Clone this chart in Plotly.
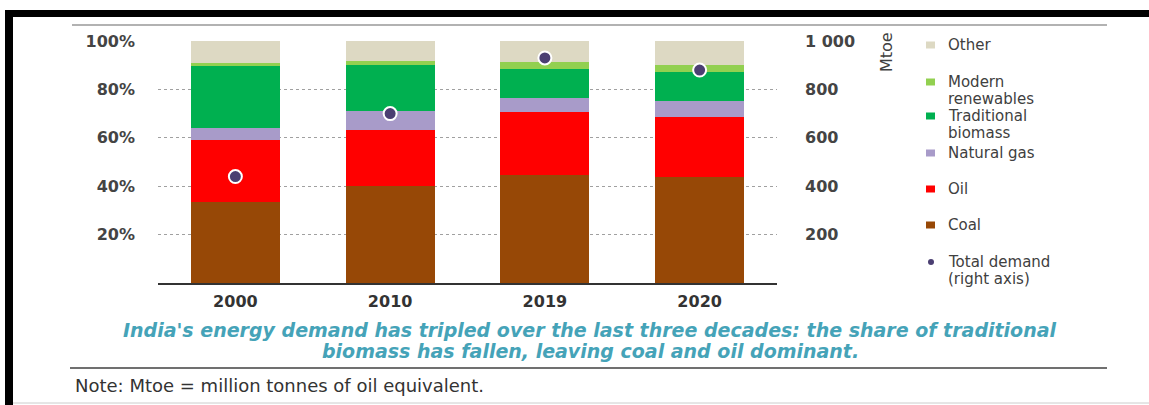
import plotly.graph_objects as go

# ---- data ----
years = ["2000", "2010", "2019", "2020"]
coal = [33.4, 39.9, 44.6, 43.8]
oil = [25.8, 23.2, 26.1, 24.8]
natural_gas = [4.9, 7.8, 5.8, 6.5]
traditional_biomass = [25.5, 19.1, 12.0, 11.9]
modern_renewables = [1.4, 1.9, 2.9, 3.2]
other = [9.0, 8.1, 8.6, 9.8]
total_demand = [440, 700, 930, 880]

left_ticks = [20, 40, 60, 80, 100]
left_labels = ["20%", "40%", "60%", "80%", "100%"]
right_ticks = [200, 400, 600, 800, 1000]
right_labels = ["200", "400", "600", "800", "1 000"]

series = [
    ("Coal", coal, "#974806"),
    ("Oil", oil, "#ff0000"),
    ("Natural gas", natural_gas, "#a89bc9"),
    ("Traditional biomass", traditional_biomass, "#00b050"),
    ("Modern renewables", modern_renewables, "#92d050"),
    ("Other", other, "#ddd9c3"),
]
DOT = "#4b3f72"

W, H = 1149, 405
L, R, T, B = 158, 777, 41, 283


def px(x):
    return (x - L) / (R - L)


def py(y):
    return (B - y) / (B - T)


FONT = "DejaVu Sans"
fig = go.Figure()
for name, vals, col in series:
    fig.add_trace(go.Bar(x=years, y=vals, name=name, marker=dict(color=col, line=dict(width=0)),
                         yaxis="y"))
fig.add_trace(go.Scatter(x=years, y=total_demand, mode="markers", yaxis="y2",
                         marker=dict(size=13, color=DOT, line=dict(color="white", width=2)),
                         name="Total demand"))

fig.update_layout(
    width=W, height=H,
    margin=dict(l=L, r=W - R, t=T, b=H - B, pad=0),
    paper_bgcolor="white", plot_bgcolor="white",
    barmode="stack", bargap=0.425, showlegend=False,
    font=dict(family=FONT, color="#404040"),
    xaxis=dict(type="category", showline=True, linecolor="#333333", linewidth=1.5,
               ticks="", showgrid=False, ticklabelstandoff=3,
               tickfont=dict(family=FONT, size=16, color="#333333", weight="bold")),
    yaxis=dict(range=[0, 100], tickvals=left_ticks, ticktext=left_labels,
               showgrid=True, gridcolor="#a0a0a0", griddash="dot", gridwidth=1,
               zeroline=False, showline=False, ticks="", ticklabelstandoff=22,
               tickfont=dict(family=FONT, size=16, color="#444444", weight="bold")),
    yaxis2=dict(range=[0, 1000], tickvals=right_ticks, ticktext=right_labels,
                overlaying="y", side="right", showgrid=False, zeroline=False,
                showline=False, ticks="", ticklabelstandoff=27,
                tickfont=dict(family=FONT, size=16, color="#444444", weight="bold")),
)

shapes = []
ann = []
# decorative frame
shapes.append(dict(type="rect", xref="paper", yref="paper", x0=px(5), x1=px(1149), y0=py(17), y1=py(10),
                   fillcolor="black", line=dict(width=0), layer="above"))
shapes.append(dict(type="rect", xref="paper", yref="paper", x0=px(5), x1=px(13), y0=py(405), y1=py(10),
                   fillcolor="black", line=dict(width=0), layer="above"))
shapes.append(dict(type="line", xref="paper", yref="paper", x0=px(72), x1=px(1107), y0=py(25), y1=py(25),
                   line=dict(color="#666666", width=1.2)))
shapes.append(dict(type="line", xref="paper", yref="paper", x0=px(70), x1=px(1107), y0=py(368), y1=py(368),
                   line=dict(color="#707070", width=2)))
shapes.append(dict(type="line", xref="paper", yref="paper", x0=px(13), x1=px(1149), y0=py(403), y1=py(403),
                   line=dict(color="#cccccc", width=1)))

# legend
legend_items = [
    ("Other", "#ddd9c3", [(45, "Other")]),
    ("Modern renewables", "#92d050", [(82, "Modern"), (99, "renewables")]),
    ("Traditional biomass", "#00b050", [(116, "Traditional"), (133, "biomass")]),
    ("Natural gas", "#a89bc9", [(153, "Natural gas")]),
    ("Oil", "#ff0000", [(189, "Oil")]),
    ("Coal", "#974806", [(225, "Coal")]),
]
LF = dict(family=FONT, size=15, color="#404040")
for name, col, lines in legend_items:
    yc = lines[0][0]
    shapes.append(dict(type="rect", xref="paper", yref="paper", x0=px(926), x1=px(935),
                       y0=py(yc + 3.5), y1=py(yc - 3.5), fillcolor=col, line=dict(width=0)))
    for yy, txt in lines:
        ann.append(dict(xref="paper", yref="paper", x=px(946), y=py(yy), text=txt, showarrow=False,
                        xanchor="left", yanchor="middle", font=LF))
shapes.append(dict(type="circle", xref="paper", yref="paper", x0=px(928), x1=px(934),
                   y0=py(265), y1=py(259), fillcolor=DOT, line=dict(width=0)))
for yy, txt in [(262, "Total demand"), (279, "(right axis)")]:
    ann.append(dict(xref="paper", yref="paper", x=px(946), y=py(yy), text=txt, showarrow=False,
                    xanchor="left", yanchor="middle", font=LF))

ann.append(dict(xref="paper", yref="paper", x=px(887), y=py(52), text="Mtoe", textangle=-90,
                showarrow=False, xanchor="center", yanchor="middle",
                font=dict(family=FONT, size=16, color="#404040")))

CAP = dict(family=FONT, size=19, color="#45a3b8", style="italic", weight="bold")
ann.append(dict(xref="paper", yref="paper", x=px(590), y=py(330),
                text="India's energy demand has tripled over the last three decades: the share of traditional",
                showarrow=False, xanchor="center", yanchor="middle", font=CAP))
ann.append(dict(xref="paper", yref="paper", x=px(590), y=py(351),
                text="biomass has fallen, leaving coal and oil dominant.",
                showarrow=False, xanchor="center", yanchor="middle", font=CAP))
ann.append(dict(xref="paper", yref="paper", x=px(73), y=py(385),
                text="Note: Mtoe = million tonnes of oil equivalent.",
                showarrow=False, xanchor="left", yanchor="middle",
                font=dict(family=FONT, size=18, color="#333333")))

fig.update_layout(shapes=shapes, annotations=ann)
fig.write_html("out.html")
